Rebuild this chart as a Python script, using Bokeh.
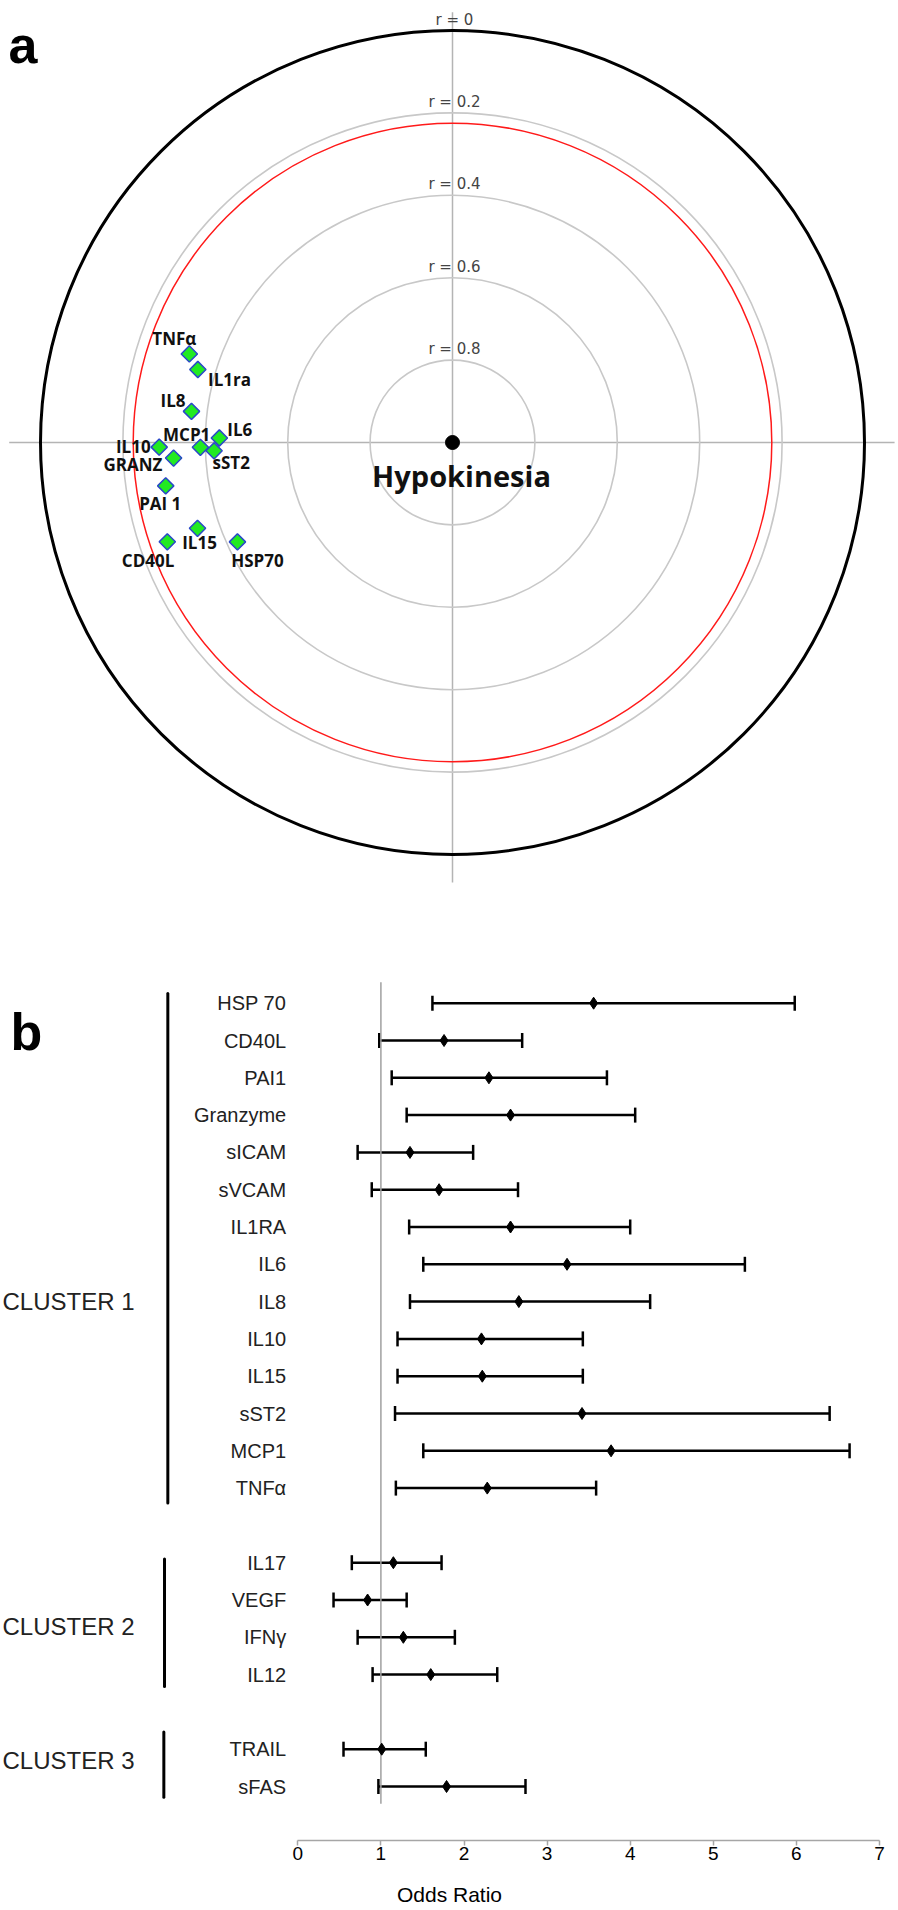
import math
from bokeh.plotting import figure
from bokeh.layouts import column
from bokeh.models import Range1d, ColumnDataSource, Whisker, TeeHead, FixedTicker
from bokeh.core.properties import value
from bokeh.embed import file_html
from bokeh.resources import INLINE

# ---------------- Panel a data (polar correlation plot) ----------------
cyto_a = ["TNFα", "IL1ra", "IL8", "IL6", "MCP1", "sST2", "IL10", "GRANZ",
          "PAI 1", "IL15", "CD40L", "HSP70"]
r_a = [0.326, 0.357, 0.362, 0.434, 0.388, 0.421, 0.288, 0.322,
       0.296, 0.347, 0.267, 0.425]
angle_a = [161.4, 164.0, 173.2, 178.9, 181.1, 182.0, 180.9, 183.2,
           188.6, 198.6, 199.2, 204.8]
r_rings = [0, 0.2, 0.4, 0.6, 0.8]
r_signif = 0.225
outcome = "Hypokinesia"

# ---------------- Panel b data (forest plot) ----------------
names_b = ["HSP 70", "CD40L", "PAI1", "Granzyme", "sICAM", "sVCAM", "IL1RA",
           "IL6", "IL8", "IL10", "IL15", "sST2", "MCP1", "TNFα",
           "IL17", "VEGF", "IFNγ", "IL12",
           "TRAIL", "sFAS"]
cluster_b = [1] * 14 + [2] * 4 + [3] * 2
or_b = [3.56, 1.76, 2.30, 2.56, 1.35, 1.70, 2.56, 3.24, 2.66, 2.21, 2.22,
        3.42, 3.77, 2.28, 1.15, 0.84, 1.27, 1.60, 1.01, 1.79]
lo_b = [1.62, 0.98, 1.13, 1.31, 0.72, 0.89, 1.34, 1.51, 1.35, 1.20, 1.20,
        1.17, 1.51, 1.18, 0.65, 0.43, 0.72, 0.90, 0.55, 0.97]
hi_b = [5.98, 2.70, 3.72, 4.06, 2.11, 2.65, 4.00, 5.38, 4.24, 3.43, 3.43,
        6.40, 6.64, 3.59, 1.73, 1.31, 1.89, 2.40, 1.54, 2.74]
cluster_names = ["CLUSTER 1", "CLUSTER 2", "CLUSTER 3"]
x_ticks = [0, 1, 2, 3, 4, 5, 6, 7]
x_title = "Odds Ratio"

# ======================= Panel a =======================
W = 898
HA = 890
S = 412.0          # px per radial unit
CX, CY = 452.0, 442.0
xa0, xa1 = -CX / S, (W - CX) / S
ya0, ya1 = -(HA - CY) / S, CY / S

pa = figure(width=W, height=HA, output_backend="svg", toolbar_location=None,
            x_range=Range1d(xa0, xa1), y_range=Range1d(ya0, ya1),
            x_axis_location=None, y_axis_location=None, min_border=0,
            outline_line_color=None, background_fill_color="white")
pa.grid.visible = False

# cross lines
pa.segment(x0=[-1.076, 0], y0=[0, 1.044], x1=[1.073, 0], y1=[0, -1.068],
           line_color="#b4b4b4", line_width=1.5)
# rings
pa.circle(x=[0] * 4, y=[0] * 4, radius=[1 - r for r in r_rings[1:]],
          fill_color=None, line_color="#c8c8c8", line_width=1.6)
pa.circle(x=[0], y=[0], radius=[1 - r_signif], fill_color=None,
          line_color="#ff1a1a", line_width=1.5)
pa.circle(x=[0], y=[0], radius=[1 - r_rings[0]], fill_color=None,
          line_color="black", line_width=3)
# ring labels
pa.text(x=[0] * len(r_rings), y=[1 - r for r in r_rings],
        text=[f"r = {r:g}" for r in r_rings], x_offset=2, y_offset=-11,
        text_align="center", text_baseline="middle",
        text_font=value("DejaVu Sans"), text_font_size="15px",
        text_color="#444444")

# points
xs = [(1 - r) * math.cos(math.radians(a)) for r, a in zip(r_a, angle_a)]
ys = [(1 - r) * math.sin(math.radians(a)) for r, a in zip(r_a, angle_a)]
lab_dx = [-15, 31.7, -18.5, 20.5, -13.7, 17.1, -25.9, -40.6, -5.5, 2, -19.2, 20]
lab_dy = [-15.6, 10, -10.7, -8.7, -12.7, 12, -1, 6.6, 18, 14.3, 18.7, 18.7]
src_a = ColumnDataSource(dict(x=xs, y=ys, name=cyto_a, dx=lab_dx, dy=lab_dy))
pa.scatter(x="x", y="y", source=src_a, marker="square", angle=math.pi / 4,
           size=11.5, fill_color="#22ea22", line_color="#2a48c8", line_width=1.5)
pa.text(x="x", y="y", text="name", source=src_a, x_offset="dx", y_offset="dy",
        text_align="center", text_baseline="middle",
        text_font=value("Open Sans"), text_font_style="bold",
        text_font_size="17px", text_color="#111111")

# centre
pa.scatter(x=[0], y=[0], size=14, color="black")
pa.text(x=[0], y=[0], text=[outcome], x_offset=9, y_offset=33.4,
        text_align="center", text_baseline="middle",
        text_font=value("Open Sans"), text_font_style="bold",
        text_font_size="29px", text_color="#111111")
# panel letter
pa.text(x=[xa0], y=[ya1], text=["a"], x_offset=8, y_offset=44.7,
        text_align="left", text_baseline="alphabetic",
        text_font=value("Liberation Sans"), text_font_style="bold",
        text_font_size="52px", text_color="black")

# ======================= Panel b =======================
HB = 1020
BOT = 70
UX = 83.1          # px per odds-ratio unit
X0 = 297.3         # px of OR = 0
ROW = 37.3         # px per row
Y0 = 112.7         # px of first row
FH = HB - BOT
xb0, xb1 = -X0 / UX, (W - X0) / UX

rows = [i + (c - 1) for i, c in enumerate(cluster_b)]
src_b = ColumnDataSource(dict(row=rows, name=names_b, orv=or_b, lo=lo_b, hi=hi_b))

pb = figure(width=W, height=HB, output_backend="svg", toolbar_location=None,
            x_range=Range1d(xb0, xb1),
            y_range=Range1d((FH - Y0) / ROW, -Y0 / ROW),
            y_axis_location=None, min_border=0, min_border_bottom=BOT,
            outline_line_color=None, background_fill_color="white")
pb.grid.visible = False

ax = pb.xaxis[0]
ax.bounds = (0, 7)
ax.ticker = FixedTicker(ticks=x_ticks)
ax.axis_line_color = "#a6a6a6"
ax.axis_line_width = 1.5
ax.major_tick_line_color = "#a6a6a6"
ax.major_tick_line_width = 1.5
ax.major_tick_out = 5
ax.major_tick_in = 0
ax.minor_tick_line_color = None
ax.major_label_standoff = 1
ax.major_label_text_font = "Liberation Sans"
ax.major_label_text_font_size = "19px"
ax.major_label_text_color = "black"
ax.axis_label = x_title
ax.axis_label_standoff = 20
ax.axis_label_text_font = "Liberation Sans"
ax.axis_label_text_font_style = "normal"
ax.axis_label_text_font_size = "21px"
ax.axis_label_text_color = "black"

# reference line at OR = 1
pb.segment(x0=[1], y0=[-0.56], x1=[1], y1=[21.46], line_color="#a0a0a0",
           line_width=1.5)

wh = Whisker(source=src_b, base="row", lower="lo", upper="hi",
             dimension="width", line_color="black", line_width=2.5,
             upper_head=TeeHead(size=15, line_color="black", line_width=2.5),
             lower_head=TeeHead(size=15, line_color="black", line_width=2.5))
pb.add_layout(wh)
pb.scatter(x="orv", y="row", source=src_b, marker="diamond", size=12,
           fill_color="black", line_color="black", line_width=1)

pb.text(x=-0.14, y="row", text="name", source=src_b, text_align="right",
        text_baseline="middle", text_font=value("Liberation Sans"),
        text_font_size="20px", text_color="#222222")

# cluster bars and labels
bar_x = [-1.564, -1.604, -1.612]
bar_top = [-0.26, 14.9, 19.54]
bar_bot = [13.4, 18.32, 21.29]
lab_y = [8.01, 16.72, 20.30]
pb.segment(x0=bar_x, y0=bar_top, x1=bar_x, y1=bar_bot, line_color="black",
           line_width=3, line_cap="round")
pb.text(x=[xb0] * 3, y=lab_y, text=cluster_names, x_offset=2,
        text_align="left", text_baseline="middle",
        text_font=value("Liberation Sans"), text_font_size="24px",
        text_color="#222222")
pb.text(x=[xb0], y=[0.777], text=["b"], x_offset=10,
        text_align="left", text_baseline="alphabetic",
        text_font=value("Liberation Sans"), text_font_style="bold",
        text_font_size="52px", text_color="black")

layout = column(pa, pb, spacing=0)
open("out.html", "w").write(file_html(layout, INLINE))
